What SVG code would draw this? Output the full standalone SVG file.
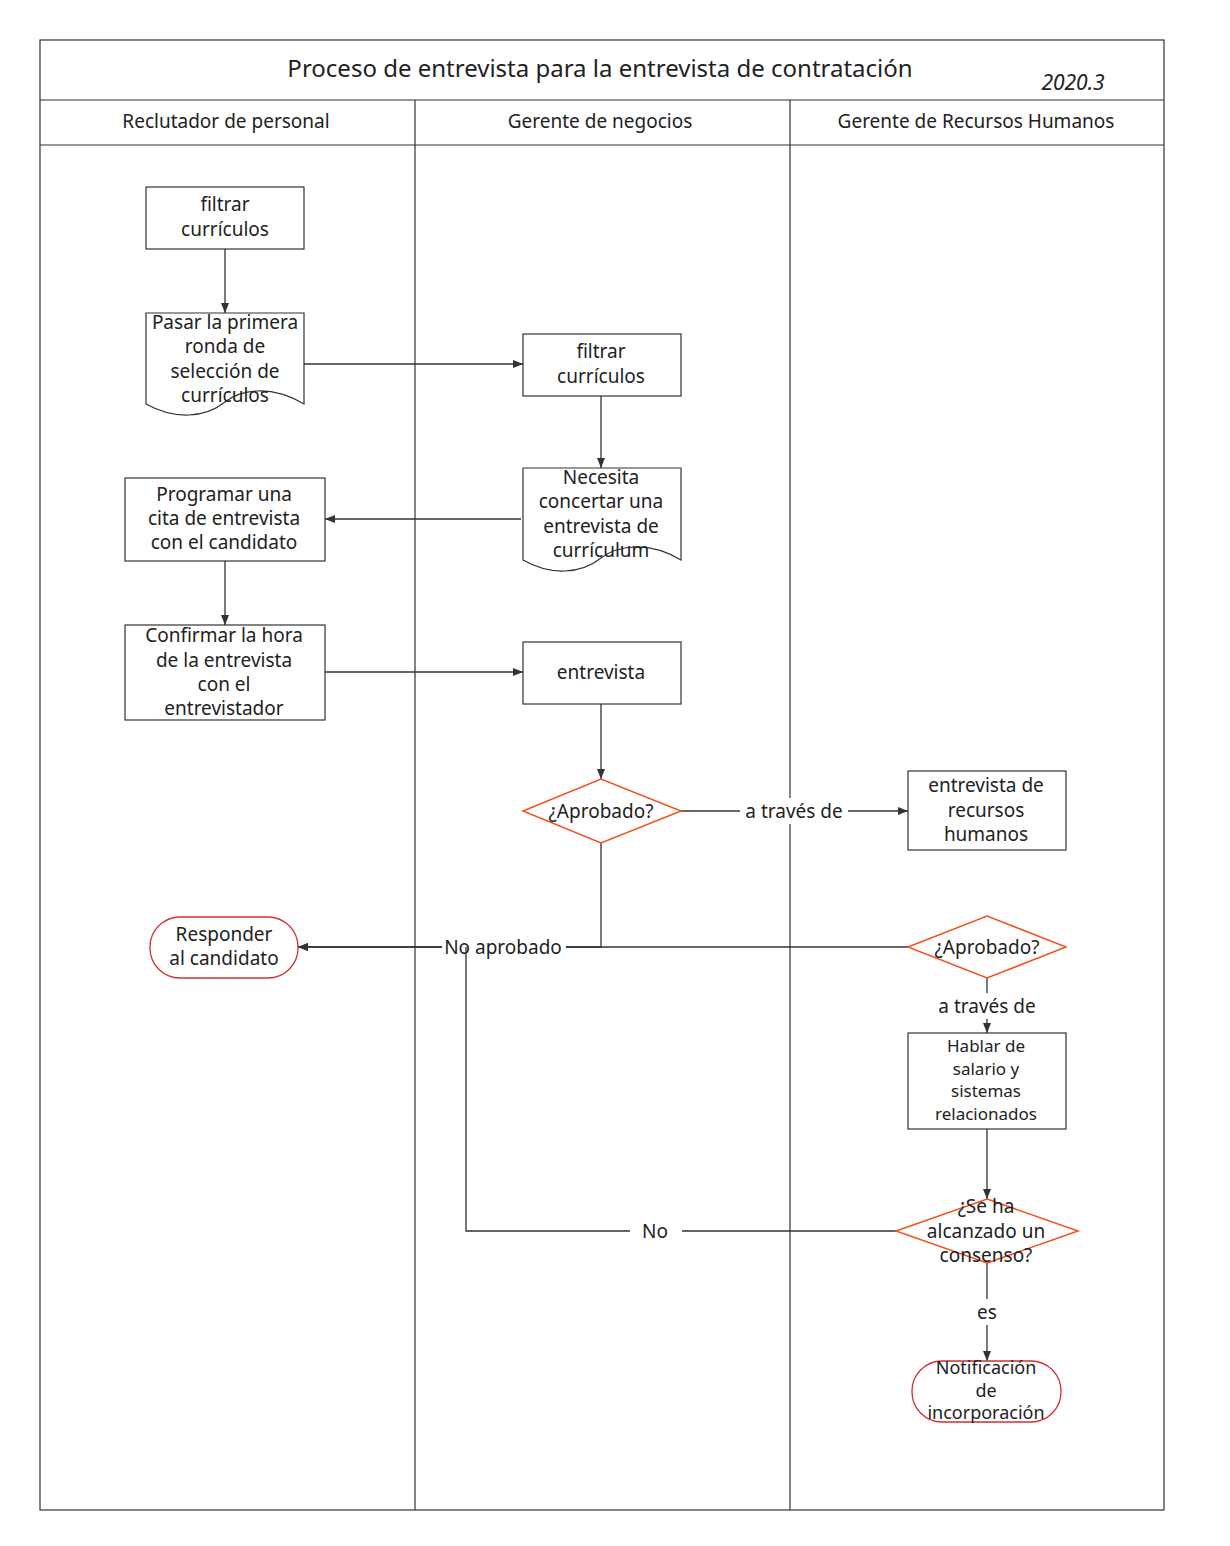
<svg xmlns="http://www.w3.org/2000/svg" width="1230" height="1546" viewBox="0 0 1230 1546">
<defs>
<style>
text{font-family:"Noto Sans","Open Sans",sans-serif;fill:#222;text-anchor:middle}
.n{fill:#fff;stroke:#333;stroke-width:1.2}
.d{fill:#fff;stroke:#f4511e;stroke-width:1.5}
.t{fill:#fff;stroke:#d32f2f;stroke-width:1.3}
.c{fill:none;stroke:#333;stroke-width:1.3}
.f{font-size:19px}
.l{fill:#fff}
</style>
<marker id="a" viewBox="0 0 10 10" refX="10" refY="5" markerWidth="10" markerHeight="10" markerUnits="userSpaceOnUse" orient="auto"><path d="M0,1 L10,5 L0,9 z" fill="#333"/></marker>
</defs>
<rect width="1230" height="1546" fill="#fff"/>
<g id="frame" fill="none" stroke="#333" stroke-width="1.2">
<rect x="40" y="40" width="1124" height="1470"/>
<line x1="40" y1="100" x2="1164" y2="100"/>
<line x1="40" y1="145" x2="1164" y2="145"/>
<line x1="415" y1="100" x2="415" y2="1510"/>
<line x1="790" y1="100" x2="790" y2="1510"/>
</g>
<text x="600" y="77" style="font-size:24px">Proceso de entrevista para la entrevista de contratación</text>
<text x="1073" y="90" style="font-size:21px;font-style:italic">2020.3</text>
<text x="226" y="128" class="f">Reclutador de personal</text>
<text x="600" y="128" class="f">Gerente de negocios</text>
<text x="976" y="128" class="f">Gerente de Recursos Humanos</text>
<g id="connectors">
<path class="c" d="M225,249V313" marker-end="url(#a)"/>
<path class="c" d="M304,364H523" marker-end="url(#a)"/>
<path class="c" d="M601,396V468" marker-end="url(#a)"/>
<path class="c" d="M521,519L325,519" marker-end="url(#a)"/>
<path class="c" d="M225,561V625" marker-end="url(#a)"/>
<path class="c" d="M325,672L523,672" marker-end="url(#a)"/>
<path class="c" d="M601,704V779" marker-end="url(#a)"/>
<path class="c" d="M681,811H908" marker-end="url(#a)"/>
<path class="c" d="M601,843V947H298" marker-end="url(#a)"/>
<path class="c" d="M908,947H298" marker-end="url(#a)"/>
<path class="c" d="M987,978V1033" marker-end="url(#a)"/>
<path class="c" d="M987,1129V1199" marker-end="url(#a)"/>
<rect class="l" x="740" y="798" width="108" height="26"/><text x="794" y="818" class="f">a través de</text>
<rect class="l" x="442" y="934" width="124" height="26"/><text x="503" y="954" class="f">No aprobado</text>
<path class="c" d="M896,1231H466V947"/>
<rect class="l" x="932" y="993" width="110" height="26"/><text x="987" y="1013" class="f">a través de</text>
<rect class="l" x="630" y="1218" width="52" height="26"/><text x="655" y="1238" class="f">No</text>
<path class="c" d="M987,1263V1361" marker-end="url(#a)"/>
<rect class="l" x="972" y="1299" width="30" height="26"/><text x="987" y="1319" class="f">es</text>
</g>
<g id="n1"><rect class="n" x="146" y="187" width="158" height="62"/><text x="225" y="211" class="f">filtrar</text><text x="225" y="236" class="f">currículos</text></g>
<g id="n2"><path class="n" d="M146,313H304V404C270,384 240,390 225,402C205,418 175,420 146,404Z"/><text x="225" y="329" class="f">Pasar la primera</text><text x="225" y="353" class="f">ronda de</text><text x="225" y="378" class="f">selección de</text><text x="225" y="402" class="f">currículos</text></g>
<g id="n3"><rect class="n" x="523" y="334" width="158" height="62"/><text x="601" y="358" class="f">filtrar</text><text x="601" y="383" class="f">currículos</text></g>
<g id="n4"><path class="n" d="M523,468H681V560C647,540 617,546 601,558C581,574 551,576 523,560Z"/><text x="601" y="484" class="f">Necesita</text><text x="601" y="508" class="f">concertar una</text><text x="601" y="533" class="f">entrevista de</text><text x="601" y="557" class="f">currículum</text></g>
<g id="n5"><rect class="n" x="125" y="478" width="200" height="83"/><text x="224" y="501" class="f">Programar una</text><text x="224" y="525" class="f">cita de entrevista</text><text x="224" y="549" class="f">con el candidato</text></g>
<g id="n6"><rect class="n" x="125" y="625" width="200" height="95"/><text x="224" y="642" class="f">Confirmar la hora</text><text x="224" y="667" class="f">de la entrevista</text><text x="224" y="691" class="f">con el</text><text x="224" y="715" class="f">entrevistador</text></g>
<g id="n7"><rect class="n" x="523" y="642" width="158" height="62"/><text x="601" y="679" class="f">entrevista</text></g>
<g id="n8"><path class="d" d="M523,811L601,779L681,811L601,843Z"/><text x="601" y="818" class="f">¿Aprobado?</text></g>
<g id="n9"><rect class="n" x="908" y="771" width="158" height="79"/><text x="986" y="792" class="f">entrevista de</text><text x="986" y="817" class="f">recursos</text><text x="986" y="841" class="f">humanos</text></g>
<g id="n10"><path class="d" d="M908,947L987,916L1066,947L987,978Z"/><text x="987" y="954" class="f">¿Aprobado?</text></g>
<g id="n11"><rect class="n" x="908" y="1033" width="158" height="96"/><g style="font-size:17px"><text x="986" y="1052">Hablar de</text><text x="986" y="1075">salario y</text><text x="986" y="1097">sistemas</text><text x="986" y="1120">relacionados</text></g></g>
<g id="n12"><path class="d" d="M896,1231L987,1199L1078,1231L987,1263Z"/><text x="986" y="1213" class="f">¿Se ha</text><text x="986" y="1238" class="f">alcanzado un</text><text x="986" y="1262" class="f">consenso?</text></g>
<g id="n13"><rect class="t" x="912" y="1361" width="149" height="61" rx="30"/><g style="font-size:18px"><text x="986" y="1374">Notificación</text><text x="986" y="1397">de</text><text x="986" y="1419">incorporación</text></g></g>
<g id="n14"><rect class="t" x="150" y="917" width="148" height="61" rx="30"/><text x="224" y="941" class="f">Responder</text><text x="224" y="965" class="f">al candidato</text></g>
</svg>
